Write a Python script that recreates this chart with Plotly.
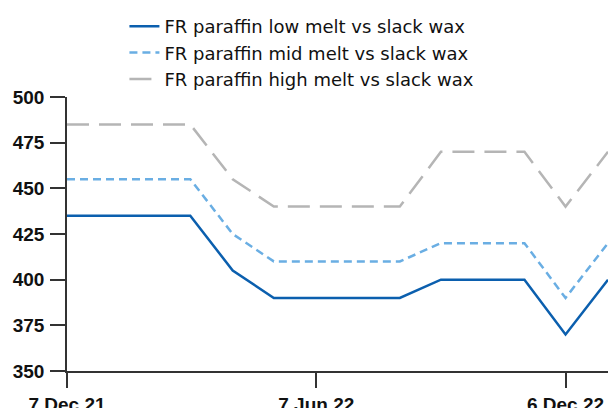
import plotly.graph_objects as go

dates = ["2021-12-07", "2022-01-07", "2022-02-07", "2022-03-07", "2022-04-07",
         "2022-05-07", "2022-06-07", "2022-07-07", "2022-08-07", "2022-09-06",
         "2022-10-06", "2022-11-06", "2022-12-06", "2023-01-06"]
low_melt = [435, 435, 435, 435, 405, 390, 390, 390, 390, 400, 400, 400, 370, 400]
mid_melt = [455, 455, 455, 455, 425, 410, 410, 410, 410, 420, 420, 420, 390, 420]
high_melt = [485, 485, 485, 485, 455, 440, 440, 440, 440, 470, 470, 470, 440, 470]

tick_vals = ["2021-12-07", "2022-06-07", "2022-12-06"]
tick_text = ["7 Dec 21", "7 Jun 22", "6 Dec 22"]
y_ticks = [350, 375, 400, 425, 450, 475, 500]

fig = go.Figure()
fig.add_trace(go.Scatter(x=dates, y=low_melt, mode="lines",
                         name="FR paraffin low melt vs slack wax",
                         line=dict(color="#0B5FAE", width=2.5)))
fig.add_trace(go.Scatter(x=dates, y=mid_melt, mode="lines",
                         name="FR paraffin mid melt vs slack wax",
                         line=dict(color="#6AAEE3", width=2.5, dash="8px,5px")))
fig.add_trace(go.Scatter(x=dates, y=high_melt, mode="lines",
                         name="FR paraffin high melt vs slack wax",
                         line=dict(color="#B5B5B5", width=2.5, dash="22px,10px")))

tick_font = dict(family="Liberation Sans", size=19, color="#111", weight="bold")

fig.update_layout(
    width=616, height=408,
    margin=dict(l=59, r=16, t=89, b=45, autoexpand=False),
    paper_bgcolor="white", plot_bgcolor="white",
    font=dict(family="DejaVu Sans", size=18, color="#111"),
    showlegend=True,
    legend=dict(xref="container", yref="container", x=0.189, y=1.025,
                xanchor="left", yanchor="top",
                font=dict(family="DejaVu Sans", size=18, color="#111"),
                tracegroupgap=0, bgcolor="rgba(0,0,0,0)"),
    xaxis=dict(type="date", range=["2021-12-07", "2023-01-06"],
               tickvals=tick_vals, ticktext=tick_text, tickangle=0,
               showgrid=False, zeroline=False,
               showline=True, linecolor="#333", linewidth=1.5,
               ticks="outside", ticklen=15, tickcolor="#333", tickwidth=1.5,
               tickfont=tick_font),
    yaxis=dict(range=[350, 500], tickvals=y_ticks,
               showgrid=False, zeroline=False,
               showline=True, linecolor="#333", linewidth=1.5,
               ticks="outside", ticklen=15, tickcolor="#333", tickwidth=1.5,
               ticklabelstandoff=2, tickfont=tick_font),
)

fig.write_html("out.html")
